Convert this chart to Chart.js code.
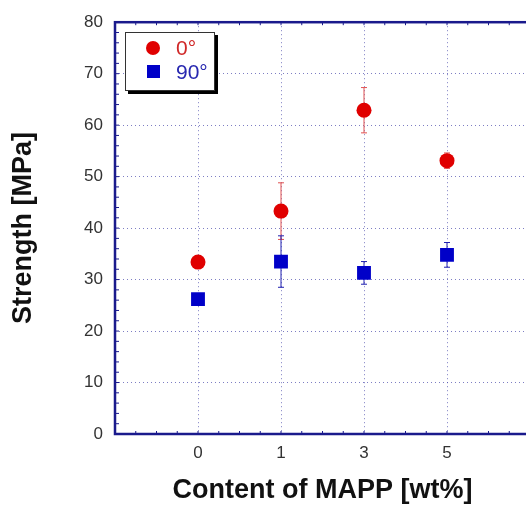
<!DOCTYPE html>
<html>
<head>
<meta charset="utf-8">
<script src="https://cdn.jsdelivr.net/npm/chart.js@4"></script>
<style>
  body { margin: 0; overflow: hidden; background: #fff; }
  #wrap { position: relative; width: 545px; height: 510px; }
  #legend {
    position: absolute; left: 125px; top: 32px; width: 88px; height: 57px;
    background: #fff; border: 1px solid #333; box-shadow: 3px 3px 0 #000;
    font-family: "Liberation Sans", Arial, sans-serif; font-size: 21px;
  }
  .row { position: absolute; left: 0; height: 22px; line-height: 22px; }
  .mk { position: absolute; }
</style>
</head>
<body>
<div id="wrap">
  <canvas id="grafico" width="545" height="510"></canvas>
  <div id="legend">
    <div class="row" style="top:4px">
      <span class="mk" style="left:20px;top:4px;width:14px;height:14px;border-radius:7px;background:#e00000"></span>
      <span style="position:absolute;left:50px;color:#d02828">0°</span>
    </div>
    <div class="row" style="top:28px">
      <span class="mk" style="left:21px;top:4px;width:13px;height:13px;background:#0000c8"></span>
      <span style="position:absolute;left:50px;color:#2828b0">90°</span>
    </div>
  </div>
</div>
<script>
const categories = ["0", "1", "3", "5"];
const strength0 = [33.4, 43.3, 62.9, 53.1];
const erro0 = [0.9, 5.5, 4.4, 1.5];
const strength90 = [26.2, 33.5, 31.3, 34.8];
const erro90 = [0.8, 5.0, 2.2, 2.4];

const axisColor = "#1a1a8c";

// barras de erro + moldura + ticks menores
const extras = {
    id: "extras",
    beforeDatasetsDraw(chart) {
        const ctx = chart.ctx;
        const xs = chart.scales.x, ys = chart.scales.y;
        const erros = [erro0, erro90];
        chart.data.datasets.forEach((ds, d) => {
            ctx.save();
            ctx.strokeStyle = ds.errorColor;
            ctx.lineWidth = 1;
            ds.data.forEach((p, i) => {
                const x = xs.getPixelForValue(p.x);
                const y1 = ys.getPixelForValue(p.y + erros[d][i]);
                const y2 = ys.getPixelForValue(p.y - erros[d][i]);
                ctx.beginPath();
                ctx.moveTo(x, y1); ctx.lineTo(x, y2);
                ctx.moveTo(x - 3, y1); ctx.lineTo(x + 3, y1);
                ctx.moveTo(x - 3, y2); ctx.lineTo(x + 3, y2);
                ctx.stroke();
            });
            ctx.restore();
        });
    },
    afterDraw(chart) {
        const ctx = chart.ctx;
        const a = chart.chartArea;
        const xs = chart.scales.x, ys = chart.scales.y;
        ctx.save();
        ctx.strokeStyle = axisColor;
        ctx.lineWidth = 1;
        ctx.beginPath();
        for (let v = 0; v <= 80; v += 2) {
            const y = ys.getPixelForValue(v);
            ctx.moveTo(a.left, y); ctx.lineTo(a.left + 4, y);
        }
        for (let v = -1; v <= 4; v += 0.25) {
            const x = xs.getPixelForValue(v);
            ctx.moveTo(x, a.top); ctx.lineTo(x, a.top + 3);
            ctx.moveTo(x, a.bottom); ctx.lineTo(x, a.bottom - 3);
        }
        ctx.stroke();
        ctx.lineWidth = 2.5;
        ctx.strokeRect(a.left, a.top, a.right - a.left, a.bottom - a.top);
        ctx.restore();
    }
};

const ctx = document.getElementById("grafico").getContext("2d");

new Chart(ctx, {
    type: "scatter",
    data: {
        datasets: [
            {
                label: "0°",
                data: strength0.map((v, i) => ({ x: i, y: v })),
                pointStyle: "circle",
                pointRadius: 7.5,
                backgroundColor: "#e00000",
                borderColor: "#e00000",
                borderWidth: 0,
                errorColor: "#e05050",
            },
            {
                label: "90°",
                data: strength90.map((v, i) => ({ x: i, y: v })),
                pointStyle: "rect",
                pointRadius: 9.8,
                backgroundColor: "#0000c8",
                borderColor: "#0000c8",
                borderWidth: 0,
                errorColor: "#2020b0",
            },
        ],
    },
    options: {
        responsive: false,
        animation: false,
        layout: { padding: { top: 18, right: 15, left: 0, bottom: 0 } },
        plugins: { legend: { display: false }, tooltip: { enabled: false } },
        scales: {
            x: {
                type: "linear",
                min: -1,
                max: 4,
                afterFit(scale) { scale.height = 76; },
                afterBuildTicks(scale) {
                    scale.ticks = [-1, 0, 1, 2, 3, 4].map((v) => ({ value: v }));
                },
                ticks: {
                    autoSkip: false,
                    padding: 9,
                    color: "#333",
                    font: { family: "Liberation Sans", size: 17 },
                    callback: (v) => (categories[v] !== undefined ? categories[v] : ""),
                },
                grid: { color: "rgba(70,70,170,0.7)", drawTicks: false, lineWidth: 1 },
                border: { display: false, dash: [1, 3] },
                title: {
                    display: true,
                    text: "Content of MAPP [wt%]",
                    color: "#111",
                    padding: { top: 0, bottom: 3 },
                    font: { family: "Liberation Sans", size: 27, weight: "bold" },
                },
            },
            y: {
                min: 0,
                max: 80,
                afterFit(scale) { scale.width = 115; },
                ticks: {
                    stepSize: 10,
                    padding: 12,
                    color: "#333",
                    font: { family: "Liberation Sans", size: 17 },
                },
                grid: { color: "rgba(70,70,170,0.7)", drawTicks: false, lineWidth: 1 },
                border: { display: false, dash: [1, 3] },
                title: {
                    display: true,
                    text: "Strength [MPa]",
                    color: "#111",
                    padding: { top: 7, bottom: 0 },
                    font: { family: "Liberation Sans", size: 27, weight: "bold" },
                },
            },
        },
    },
    plugins: [extras],
});
</script>
</body>
</html>
